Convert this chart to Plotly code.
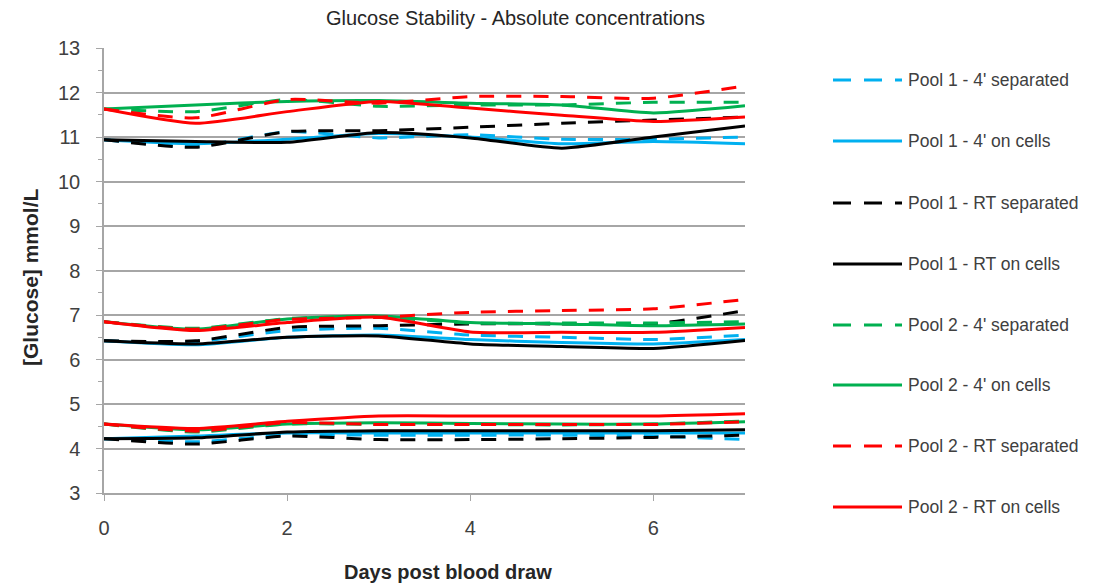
import plotly.graph_objects as go

days = [0, 1, 2, 3, 4, 5, 6, 7]

series_names = [
    "Pool 1 - 4' separated", "Pool 1 - 4' on cells",
    "Pool 1 - RT separated", "Pool 1 - RT on cells",
    "Pool 2 - 4' separated", "Pool 2 - 4' on cells",
    "Pool 2 - RT separated", "Pool 2 - RT on cells",
]
series_colors = ["#00B0F0", "#00B0F0", "#000000", "#000000",
                 "#00B050", "#00B050", "#FF0000", "#FF0000"]
series_dash = ["15px,12px", "solid", "15px,12px", "solid",
               "15px,12px", "solid", "15px,12px", "solid"]

# High level
high_p1_4_sep = [10.94, 10.79, 11.12, 10.98, 11.05, 10.95, 10.95, 11.00]
high_p1_4_cells = [10.94, 10.85, 10.95, 11.08, 11.00, 10.85, 10.90, 10.85]
high_p1_rt_sep = [10.94, 10.77, 11.12, 11.14, 11.22, 11.31, 11.38, 11.45]
high_p1_rt_cells = [10.94, 10.90, 10.88, 11.10, 10.98, 10.75, 11.00, 11.25]
high_p2_4_sep = [11.63, 11.57, 11.84, 11.69, 11.72, 11.72, 11.78, 11.78]
high_p2_4_cells = [11.63, 11.72, 11.80, 11.82, 11.76, 11.72, 11.54, 11.70]
high_p2_rt_sep = [11.63, 11.43, 11.84, 11.76, 11.91, 11.91, 11.87, 12.15]
high_p2_rt_cells = [11.63, 11.31, 11.57, 11.80, 11.65, 11.49, 11.35, 11.45]

# Mid level
mid_p1_4_sep = [6.42, 6.40, 6.65, 6.70, 6.55, 6.50, 6.45, 6.55]
mid_p1_4_cells = [6.42, 6.33, 6.50, 6.55, 6.45, 6.38, 6.35, 6.45]
mid_p1_rt_sep = [6.42, 6.42, 6.72, 6.76, 6.80, 6.80, 6.80, 7.10]
mid_p1_rt_cells = [6.42, 6.35, 6.50, 6.53, 6.35, 6.29, 6.25, 6.43]
mid_p2_4_sep = [6.85, 6.70, 6.92, 6.95, 6.82, 6.82, 6.82, 6.85]
mid_p2_4_cells = [6.85, 6.68, 6.91, 6.98, 6.83, 6.80, 6.76, 6.80]
mid_p2_rt_sep = [6.85, 6.68, 6.90, 6.95, 7.06, 7.10, 7.14, 7.35]
mid_p2_rt_cells = [6.85, 6.65, 6.83, 6.95, 6.62, 6.61, 6.61, 6.72]

# Low level
low_p1_4_sep = [4.22, 4.15, 4.30, 4.30, 4.30, 4.30, 4.28, 4.20]
low_p1_4_cells = [4.22, 4.28, 4.35, 4.35, 4.35, 4.35, 4.35, 4.35]
low_p1_rt_sep = [4.22, 4.10, 4.28, 4.20, 4.20, 4.22, 4.25, 4.30]
low_p1_rt_cells = [4.22, 4.24, 4.37, 4.40, 4.40, 4.40, 4.40, 4.42]
low_p2_4_sep = [4.55, 4.37, 4.55, 4.54, 4.54, 4.53, 4.55, 4.62]
low_p2_4_cells = [4.55, 4.42, 4.55, 4.58, 4.56, 4.55, 4.55, 4.60]
low_p2_rt_sep = [4.55, 4.39, 4.58, 4.54, 4.54, 4.54, 4.54, 4.60]
low_p2_rt_cells = [4.55, 4.45, 4.61, 4.73, 4.73, 4.73, 4.73, 4.78]

levels = [
    [high_p1_4_sep, high_p1_4_cells, high_p1_rt_sep, high_p1_rt_cells,
     high_p2_4_sep, high_p2_4_cells, high_p2_rt_sep, high_p2_rt_cells],
    [mid_p1_4_sep, mid_p1_4_cells, mid_p1_rt_sep, mid_p1_rt_cells,
     mid_p2_4_sep, mid_p2_4_cells, mid_p2_rt_sep, mid_p2_rt_cells],
    [low_p1_4_sep, low_p1_4_cells, low_p1_rt_sep, low_p1_rt_cells,
     low_p2_4_sep, low_p2_4_cells, low_p2_rt_sep, low_p2_rt_cells],
]

x_ticks = [0, 2, 4, 6]
y_ticks = list(range(3, 14))

FONT = "Liberation Sans, Arial, sans-serif"

W, H = 1099, 585
L, R, T, B = 104, 745, 48, 493  # plot area in pixels
PW, PH = R - L, B - T


def px_x(px):
    return (px - L) / PW


def px_y(py):
    return (B - py) / PH


fig = go.Figure()
for i, name in enumerate(series_names):
    for li, level in enumerate(levels):
        fig.add_trace(go.Scatter(
            x=days, y=level[i], mode="lines", name=name,
            legendgroup=name, showlegend=False,
            line=dict(color=series_colors[i], width=3, dash=series_dash[i],
                      shape="spline", smoothing=0.6),
        ))

# custom legend (sample lines + labels) to mimic the wide Excel legend keys
legend_y_px = [80, 141, 203, 264, 325, 385, 446, 507]
shapes = []
annotations = []
for i, name in enumerate(series_names):
    yy = px_y(legend_y_px[i])
    shapes.append(dict(type="line", xref="paper", yref="paper",
                       x0=px_x(833), x1=px_x(902), y0=yy, y1=yy,
                       line=dict(color=series_colors[i], width=3,
                                 dash="18px,13px" if series_dash[i] != "solid" else "solid")))
    annotations.append(dict(text=name, xref="paper", yref="paper",
                            x=px_x(906), y=yy, xanchor="left", yanchor="middle",
                            showarrow=False,
                            font=dict(family=FONT, size=17.5, color="#404040")))

annotations.append(dict(text="<b>Days post blood draw</b>", xref="paper", yref="paper",
                        x=px_x(448), y=px_y(572), xanchor="center", yanchor="middle",
                        showarrow=False, font=dict(family=FONT, size=20, color="#262626")))
annotations.append(dict(text="<b>[Glucose] mmol/L</b>", xref="paper", yref="paper",
                        x=px_x(30), y=px_y(277), xanchor="center", yanchor="middle",
                        textangle=-90, showarrow=False,
                        font=dict(family=FONT, size=21, color="#262626")))
annotations.append(dict(text="Glucose Stability - Absolute concentrations", xref="paper", yref="paper",
                        x=px_x(515), y=px_y(18), xanchor="center", yanchor="middle",
                        showarrow=False, font=dict(family=FONT, size=20, color="#262626")))

fig.update_layout(
    width=W, height=H,
    paper_bgcolor="white", plot_bgcolor="white",
    margin=dict(l=L, r=W - R, t=T, b=H - B),
    font=dict(family=FONT, color="#404040"),
    showlegend=False,
    shapes=shapes,
    annotations=annotations,
    xaxis=dict(range=[0, 7], tickvals=x_ticks, ticktext=[str(v) for v in x_ticks],
               showgrid=False, zeroline=False, showline=True, linecolor="#A6A6A6",
               linewidth=1.5, ticks="outside", ticklen=6, tickcolor="#A6A6A6",
               automargin=False, ticklabelstandoff=10,
               tickfont=dict(family=FONT, size=20, color="#404040")),
    yaxis=dict(range=[3, 13], tickvals=y_ticks, ticktext=[str(v) for v in y_ticks],
               showgrid=True, gridcolor="#A6A6A6", gridwidth=1.5, zeroline=False,
               showline=True, linecolor="#A6A6A6", linewidth=1.5,
               ticks="outside", ticklen=6, tickcolor="#A6A6A6", automargin=False,
               ticklabelstandoff=12,
               minor=dict(dtick=0.5, ticks="outside", ticklen=4, tickcolor="#A6A6A6", showgrid=False),
               tickfont=dict(family=FONT, size=20, color="#404040")),
)

fig.write_html("out.html", config={"displayModeBar": False},
               post_script="document.body.style.margin='0';document.body.style.overflow='hidden';")
